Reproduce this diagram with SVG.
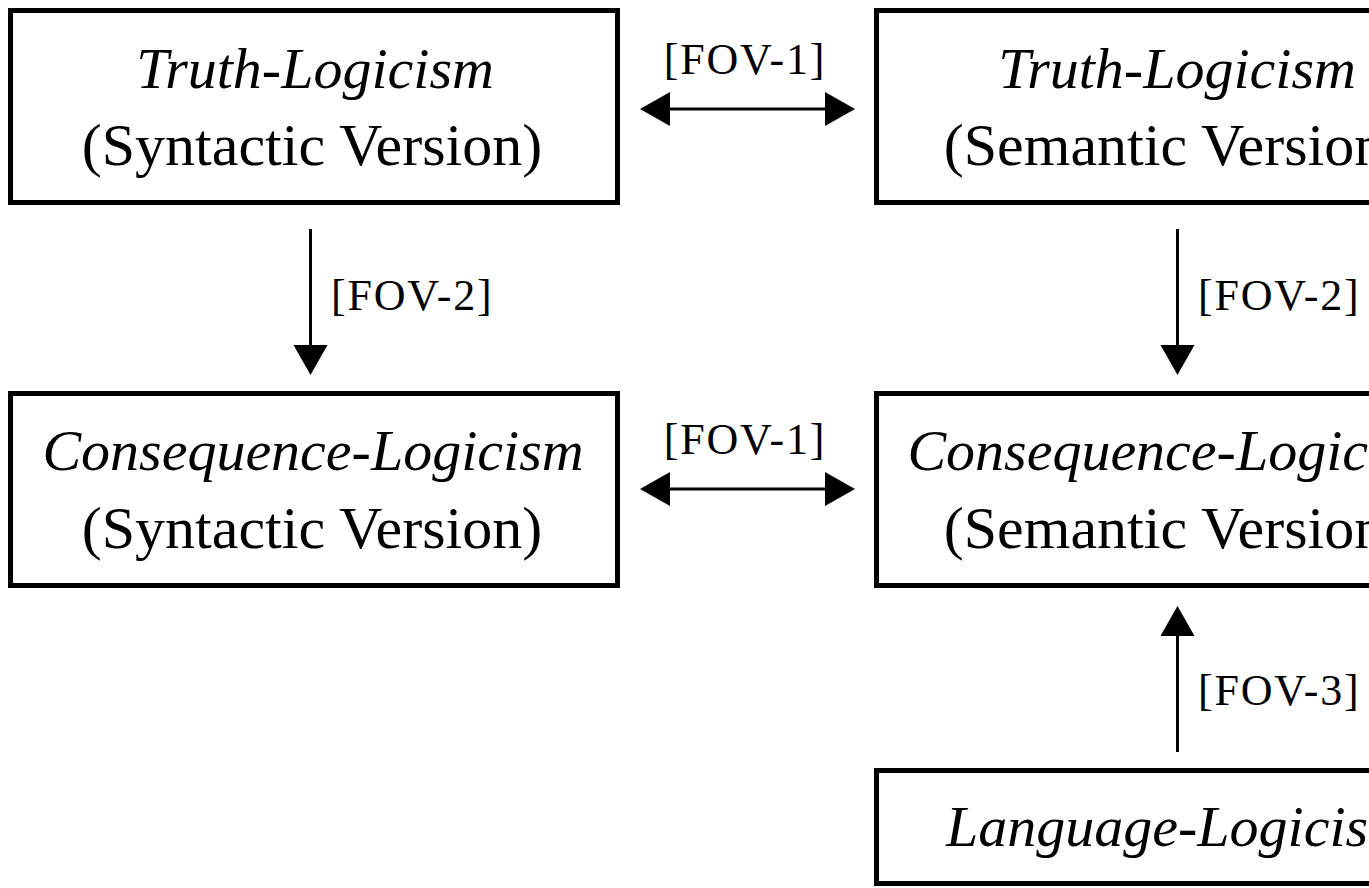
<svg xmlns="http://www.w3.org/2000/svg" width="1369" height="888" viewBox="0 0 1369 888">
  <defs>
    <style>
      .box { fill: #ffffff; stroke: #000000; stroke-width: 5; }
      .title { font-family: "Liberation Serif", "DejaVu Serif", serif; font-style: italic; font-size: 58px; fill: #000; text-anchor: middle; }
      .sub { font-family: "Liberation Serif", "DejaVu Serif", serif; font-size: 60px; fill: #000; text-anchor: middle; }
      .lbl { font-family: "Liberation Serif", "DejaVu Serif", serif; font-size: 44px; letter-spacing: 1.8px; fill: #000; }
      .conn { stroke: #000; stroke-width: 3; fill: none; }
    </style>
    <marker id="head" markerUnits="userSpaceOnUse" markerWidth="31" markerHeight="36" refX="0" refY="17" orient="auto-start-reverse">
      <path d="M0,0 L30,17 L0,34 Z" fill="#000"/>
    </marker>
  </defs>
  <rect width="1369" height="888" fill="#ffffff"/>

  <g id="truth-syntactic">
    <rect class="box" x="10.5" y="10.5" width="607" height="192"/>
    <text class="title" x="315" y="88">Truth-Logicism</text>
    <text class="sub" x="312" y="165">(Syntactic Version)</text>
  </g>

  <g id="truth-semantic">
    <rect class="box" x="876.5" y="10.5" width="607" height="192"/>
    <text class="title" x="1177" y="88">Truth-Logicism</text>
    <text class="sub" x="1174" y="165">(Semantic Version)</text>
  </g>

  <g id="consequence-syntactic">
    <rect class="box" x="10.5" y="393.5" width="607" height="192"/>
    <text class="title" x="313" y="470">Consequence-Logicism</text>
    <text class="sub" x="312" y="548">(Syntactic Version)</text>
  </g>

  <g id="consequence-semantic">
    <rect class="box" x="876.5" y="393.5" width="607" height="192"/>
    <text class="title" x="1178" y="470">Consequence-Logicism</text>
    <text class="sub" x="1174" y="548">(Semantic Version)</text>
  </g>

  <g id="language-logicism">
    <rect class="box" x="876.5" y="770.5" width="607" height="113"/>
    <text class="title" x="1178" y="846">Language-Logicism</text>
  </g>

  <g id="connectors">
    <line class="conn" x1="670" y1="109" x2="825" y2="109" marker-start="url(#head)" marker-end="url(#head)"/>
    <text class="lbl" x="745" y="74" text-anchor="middle">[FOV-1]</text>

    <line class="conn" x1="670" y1="489" x2="825" y2="489" marker-start="url(#head)" marker-end="url(#head)"/>
    <text class="lbl" x="745" y="454" text-anchor="middle">[FOV-1]</text>

    <line class="conn" x1="310.5" y1="229" x2="310.5" y2="345" marker-end="url(#head)"/>
    <text class="lbl" x="331" y="310">[FOV-2]</text>

    <line class="conn" x1="1177.5" y1="229" x2="1177.5" y2="345" marker-end="url(#head)"/>
    <text class="lbl" x="1198" y="310">[FOV-2]</text>

    <line class="conn" x1="1177.5" y1="752" x2="1177.5" y2="636" marker-end="url(#head)"/>
    <text class="lbl" x="1198" y="705">[FOV-3]</text>
  </g>
</svg>
